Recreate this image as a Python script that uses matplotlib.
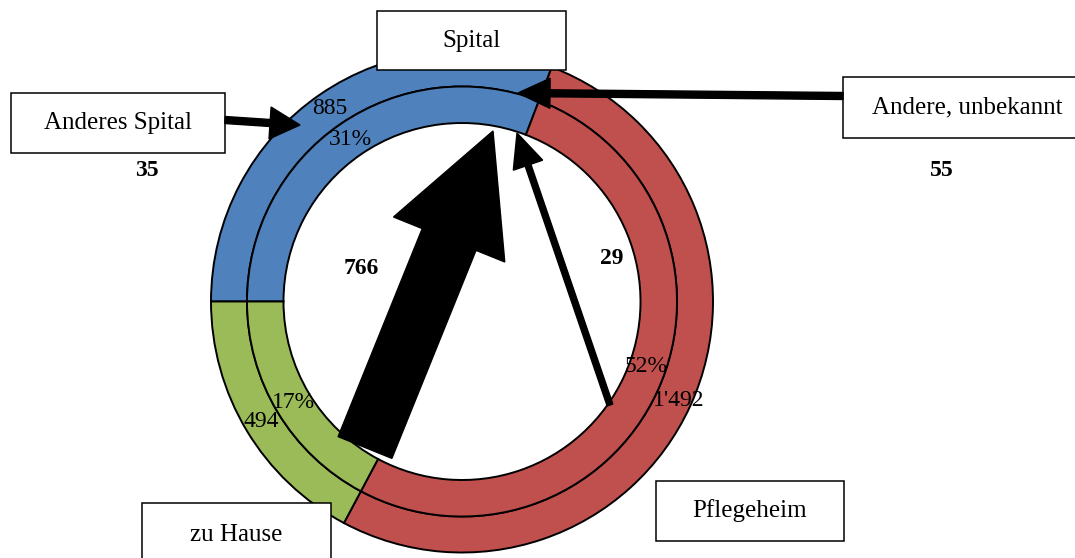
import matplotlib.pyplot as plt
from matplotlib.patches import Rectangle

plt.rcParams['font.family'] = ['Liberation Serif', 'DejaVu Serif']

# Patienten nach Aufenthaltsort
categories = ["Spital", "Pflegeheim", "zu Hause"]
values = [885, 1492, 494]
colors = ["#4F81BD", "#C0504D", "#9BBB59"]

# Zuweisungen ins Spital
flow_labels = ["Anderes Spital", "Andere, unbekannt", "zu Hause", "Pflegeheim"]
flow_values = [35, 55, 766, 29]

total = sum(values)


def fmt_count(pct):
    v = int(round(pct * total / 100.0))
    return f"{v:,}".replace(",", "'")


def fmt_pct(pct):
    return f"{pct:.0f}%"


fig = plt.figure(figsize=(10.75, 5.58), dpi=100)
ax = fig.add_axes([0, 0, 1, 1])

cx, cy = 462, 301.5
r_out, r_mid, r_in = 251, 215, 178.5
ring = dict(edgecolor="black", linewidth=1.4)
txt = dict(fontsize=17, color="black")

# outer ring: counts, inner ring: percentages
# (y axis is inverted below, so counterclock=True runs clockwise on screen)
_, _, outer_txt = ax.pie(values, radius=r_out, center=(cx, cy), startangle=180,
                         counterclock=True, colors=colors,
                         wedgeprops=dict(width=r_out - r_mid, **ring),
                         autopct=fmt_count, pctdistance=234 / r_out, textprops=txt)
_, _, inner_txt = ax.pie(values, radius=r_mid, center=(cx, cy), startangle=180,
                         counterclock=True, colors=colors,
                         wedgeprops=dict(width=r_mid - r_in, **ring),
                         autopct=fmt_pct, pctdistance=197 / r_mid, textprops=txt)
# Excel placed the Pflegeheim labels a bit higher
inner_txt[1].set_position((646, 367))
outer_txt[1].set_position((679, 400))

ax.set_xlim(0, 1075)
ax.set_ylim(558, 0)
ax.set_aspect("equal")
ax.axis("off")

# boxes with labels
boxes = [
    ("Spital", 377, 11, 189, 59),
    ("Anderes Spital", 11, 93, 214, 60),
    ("Andere, unbekannt", 843, 77, 248, 61),
    ("Pflegeheim", 656, 481, 188, 60),
    ("zu Hause", 142, 503, 189, 65),
]
for name, x, y, w, h in boxes:
    ax.add_patch(Rectangle((x, y), w, h, facecolor="white", edgecolor="black",
                           linewidth=1.1, zorder=5))
    ty = y + h / 2 if name != "zu Hause" else 535
    ax.text(x + w / 2, ty, name, ha="center", va="center", fontsize=18, zorder=6)

# arrows
ax.arrow(225, 120, 75, 5, width=7, head_width=32, head_length=30,
         length_includes_head=True, color="black", zorder=7)
ax.arrow(843, 96, -325, -3, width=7, head_width=30, head_length=32,
         length_includes_head=True, color="black", zorder=7)
ax.arrow(365, 447.5, 128, -316.5, width=58, head_width=120, head_length=117,
         length_includes_head=True, color="black", zorder=7)
ax.arrow(610, 405, -93, -272, width=6, head_width=31, head_length=34,
         length_includes_head=True, color="black", zorder=7)

# flow numbers
flow_pos = [(147, 171), (942, 171), (361, 268), (612, 258)]
for v, (x, y) in zip(flow_values, flow_pos):
    ax.text(x, y, str(v), ha="center", va="center", fontsize=17,
            fontweight="bold", zorder=8)

fig.savefig("out.png", dpi=100)
